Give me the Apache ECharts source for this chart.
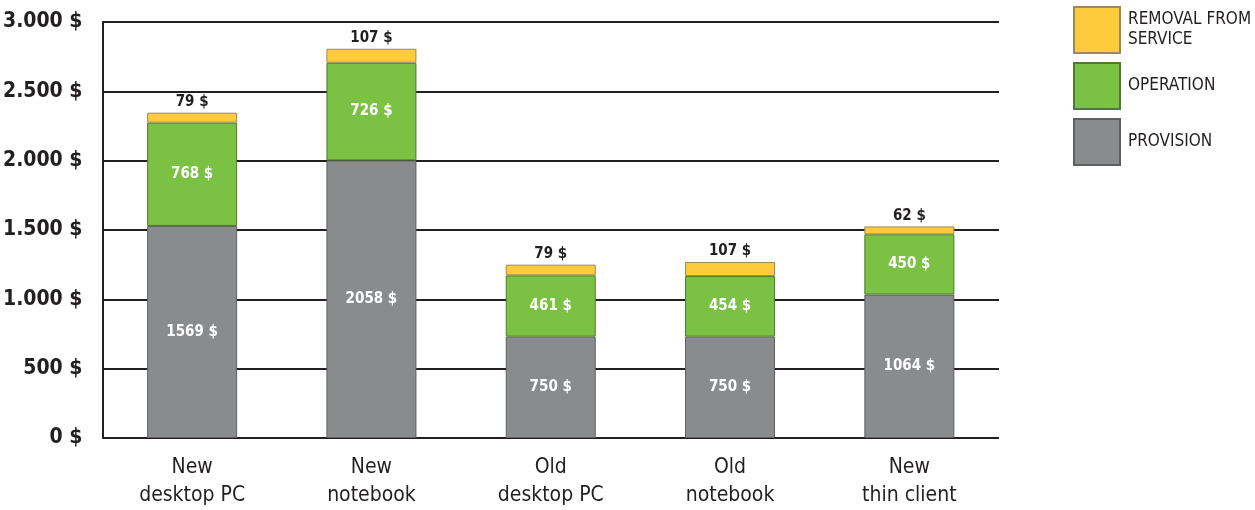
<!DOCTYPE html>
<html>
<head>
<meta charset="utf-8">
<script src="https://cdn.jsdelivr.net/npm/echarts@6/dist/echarts.min.js"></script>
<style>
html,body{margin:0;padding:0;background:#fff;}
#chart{width:1255px;height:510px;}
</style>
</head>
<body>
<div id="chart"></div>
<script>
// Categories (two-line labels)
const categories = ["New\ndesktop PC", "New\nnotebook", "Old\ndesktop PC", "Old\nnotebook", "New\nthin client"];
const seriesNames = ["REMOVAL FROM\nSERVICE", "OPERATION", "PROVISION"];

// Bar heights as drawn in the picture (in $ on the axis scale)
const provisionHeights = [1529, 2002, 731, 731, 1034];
const operationHeights = [745, 704, 442, 437, 435];
const removalHeights = [72, 101, 77, 101, 57];

// Printed value labels
const provisionLabels = [1569, 2058, 750, 750, 1064];
const operationLabels = [768, 726, 461, 454, 450];
const removalLabels = [79, 107, 79, 107, 62];

// Axis ticks
const yMin = 0, yMax = 3000, yInterval = 500;

const FONT = "'Liberation Sans Narrow', 'DejaVu Sans Condensed', 'Arial Narrow', sans-serif";
const DARK = '#231f20';

function fmtMoney(v) {
  if (v >= 1000) {
    return Math.floor(v / 1000) + '.' + String(v % 1000).padStart(3, '0') + ' $';
  }
  return v + ' $';
}

const chart = echarts.init(document.getElementById('chart'), null, {renderer: 'canvas'});
chart.setOption({
  animation: false,
  backgroundColor: '#ffffff',
  textStyle: {fontFamily: FONT},
  grid: {left: 102, right: 256, top: 22, bottom: 70, containLabel: false},
  legend: {
    orient: 'vertical',
    left: 1068,
    top: 1,
    itemWidth: 46,
    itemHeight: 46,
    itemGap: 8,
    icon: 'rect',
    data: seriesNames,
    textStyle: {fontFamily: FONT, fontSize: 17, color: DARK, lineHeight: 20, padding: [0, 0, 0, 3]},
    selectedMode: false
  },
  xAxis: {
    type: 'category',
    data: categories,
    axisLine: {show: false},
    axisTick: {show: false},
    axisLabel: {fontFamily: FONT, fontSize: 21, color: DARK, lineHeight: 28, margin: 16, interval: 0}
  },
  yAxis: {
    type: 'value',
    min: yMin,
    max: yMax,
    interval: yInterval,
    axisLine: {show: true, lineStyle: {color: DARK, width: 2}},
    axisTick: {show: false},
    splitLine: {show: true, lineStyle: {color: DARK, width: 2}},
    axisLabel: {fontFamily: FONT, fontSize: 21, fontWeight: 'bold', color: DARK, margin: 20, formatter: fmtMoney}
  },
  series: [
    {
      name: seriesNames[2],
      type: 'bar',
      stack: 'cost',
      barWidth: 90,
      data: provisionHeights,
      z: 3,
      itemStyle: {color: '#8a8b8d', borderColor: '#5e5f61', borderWidth: 1},
      label: {show: true, position: 'inside', color: '#ffffff', fontFamily: FONT, fontWeight: 'bold', fontSize: 15,
        formatter: p => provisionLabels[p.dataIndex] + ' $'}
    },
    {
      name: seriesNames[1],
      type: 'bar',
      stack: 'cost',
      barWidth: 90,
      data: operationHeights,
      z: 3,
      itemStyle: {color: '#7bc143', borderColor: '#4f7a2b', borderWidth: 1},
      label: {show: true, position: 'inside', color: '#ffffff', fontFamily: FONT, fontWeight: 'bold', fontSize: 15,
        formatter: p => operationLabels[p.dataIndex] + ' $'}
    },
    {
      name: seriesNames[0],
      type: 'bar',
      stack: 'cost',
      barWidth: 90,
      data: removalHeights,
      z: 3,
      itemStyle: {color: '#ffcb3d', borderColor: '#9a8a5a', borderWidth: 1},
      label: {show: true, position: 'top', distance: 3, color: DARK, fontFamily: FONT, fontWeight: 'bold', fontSize: 15,
        formatter: p => removalLabels[p.dataIndex] + ' $'}
    }
  ]
});
</script>
</body>
</html>
